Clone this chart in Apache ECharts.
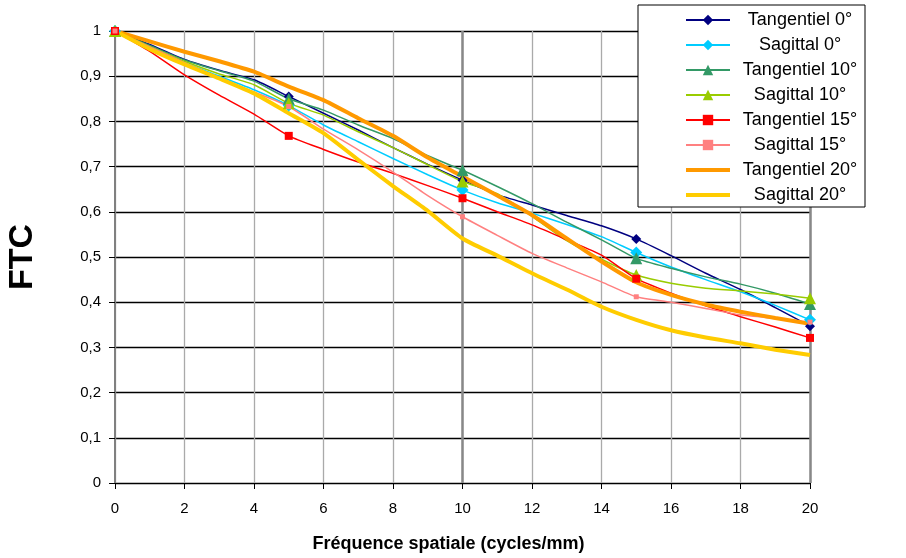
<!DOCTYPE html>
<html><head><meta charset="utf-8">
<script src="https://cdn.jsdelivr.net/npm/echarts@6/dist/echarts.min.js"></script>
<style>html,body{margin:0;padding:0;background:#fff}#c{width:906px;height:558px}</style>
</head><body><div id="c"></div>
<script>
const freq = [0,1,2,3,4,5,6,7,8,9,10,11,12,13,14,15,16,17,18,19,20];
const xTicks = [0,2,4,6,8,10,12,14,16,18,20];
const yTicks = [0,0.1,0.2,0.3,0.4,0.5,0.6,0.7,0.8,0.9,1];
const names = ['Tangentiel 0°','Sagittal 0°','Tangentiel 10°','Sagittal 10°','Tangentiel 15°','Sagittal 15°','Tangentiel 20°','Sagittal 20°'];
const tan0  = [1,0.970,0.937,0.913,0.892,0.855,0.818,0.781,0.742,0.705,0.670,0.638,0.615,0.592,0.569,0.540,0.503,0.464,0.428,0.388,0.347];
const sag0  = [1,0.965,0.930,0.900,0.870,0.835,0.792,0.755,0.718,0.682,0.648,0.620,0.597,0.572,0.545,0.510,0.478,0.450,0.423,0.393,0.361];
const tan10 = [1,0.968,0.936,0.912,0.889,0.850,0.825,0.792,0.762,0.724,0.692,0.656,0.618,0.577,0.538,0.497,0.475,0.456,0.440,0.420,0.396];
const sag10 = [1,0.966,0.933,0.905,0.881,0.840,0.814,0.777,0.742,0.704,0.667,0.640,0.590,0.536,0.495,0.460,0.442,0.431,0.425,0.418,0.409];
const tan15 = [1,0.955,0.903,0.858,0.816,0.768,0.738,0.710,0.685,0.658,0.630,0.600,0.571,0.538,0.504,0.452,0.420,0.392,0.368,0.345,0.321];
const sag15 = [1,0.965,0.930,0.895,0.865,0.833,0.783,0.737,0.688,0.636,0.589,0.548,0.508,0.476,0.445,0.412,0.400,0.386,0.372,0.364,0.356];
const tan20 = [1,0.977,0.954,0.933,0.910,0.877,0.847,0.807,0.768,0.720,0.678,0.636,0.593,0.541,0.490,0.444,0.416,0.395,0.379,0.365,0.352];
const sag20 = [1,0.960,0.926,0.895,0.862,0.818,0.774,0.715,0.657,0.602,0.541,0.503,0.464,0.428,0.390,0.361,0.338,0.322,0.309,0.295,0.283];
const allVals = [tan0,sag0,tan10,sag10,tan15,sag15,tan20,sag20];
const colors = ['#000080','#00CCFF','#339966','#99CC00','#FF0000','#FF8080','#FF9900','#FFCC00'];
const symbols = ['diamond','diamond','triangle','triangle','rect','rect','circle','circle'];
const symSizes = [10,12,12,12,8,5,0,0];
const widths = [1.5,1.5,1.5,1.5,1.5,1.5,4,4];

const FONT = "'Liberation Sans', Arial, sans-serif";
const chart = echarts.init(document.getElementById('c'), null, {renderer:'canvas'});
const series = names.map((n,i)=>({
  name:n, type:'line',
  data: freq.map((f,j)=>[f, allVals[i][j]]),
  symbol: symbols[i],
  symbolSize: function(v){ return (v[0] % 5 === 0) ? symSizes[i] : 0; },
  showAllSymbol: true,
  smooth: 0.2,
  lineStyle:{color:colors[i], width:widths[i]},
  itemStyle:{color:colors[i], borderWidth:0},
  emphasis:{disabled:true},
  animation:false,
  z: 3
}));
series[0].markLine = {
  silent:true, symbol:'none', label:{show:false},
  lineStyle:{color:'#888888', width:2.5, type:'solid'},
  data:[{xAxis:10},{xAxis:20}], z:1, animation:false
};
const legendData = names.map((n,i)=> symSizes[i] === 0
  ? {name:n, itemStyle:{opacity:0}, lineStyle:{width:widths[i], color:colors[i]}}
  : {name:n, lineStyle:{width:2, color:colors[i]}});
chart.setOption({
  backgroundColor:'#ffffff',
  animation:false,
  grid:{left:115, right:96, top:31, bottom:75, containLabel:false, outerBoundsMode:'none'},
  legend:{
    orient:'vertical', left:638, top:5,
    padding:[6,0,3,46],
    itemGap:7, itemWidth:44, itemHeight:13,
    backgroundColor:'#ffffff', borderColor:'#000000', borderWidth:1, borderRadius:0,
    data:legendData,
    textStyle:{fontFamily:FONT, fontSize:18, color:'#000',
      rich:{a:{width:130, height:18, lineHeight:18, align:'center', fontFamily:FONT, fontSize:18, color:'#000'}}},
    formatter: function(n){ return '{a|'+n+'}'; }
  },
  xAxis:{
    type:'value', min:0, max:20, interval:2,
    name:'Fréquence spatiale (cycles/mm)', nameLocation:'middle', nameGap:52,
    nameTextStyle:{fontFamily:FONT, fontSize:18, fontWeight:'bold', color:'#000', padding:[0,28,0,0]},
    axisLine:{show:true, lineStyle:{color:'#000', width:1}},
    axisTick:{show:true, length:6, inside:false, lineStyle:{color:'#000'}},
    axisLabel:{fontFamily:FONT, fontSize:15, color:'#000', margin:18,
      formatter: v => String(v)},
    splitLine:{show:true, lineStyle:{color:'#aaaaaa', width:1.3}}
  },
  yAxis:{
    type:'value', min:0, max:1, interval:0.1,
    name:'FTC', nameLocation:'middle', nameGap:75, nameRotate:90,
    nameTextStyle:{fontFamily:FONT, fontSize:34, fontWeight:'bold', color:'#000'},
    axisLine:{show:true, lineStyle:{color:'#808080', width:2}},
    axisTick:{show:true, length:6, lineStyle:{color:'#000'}},
    axisLabel:{fontFamily:FONT, fontSize:15, color:'#000', margin:14,
      formatter: v => (Math.abs(v)<1e-9 ? '0' : (Math.abs(v-1)<1e-9 ? '1' : v.toFixed(1).replace('.', ',')))},
    splitLine:{show:true, lineStyle:{color:'#000000', width:1.3}}
  },
  series: series
});
</script></body></html>
